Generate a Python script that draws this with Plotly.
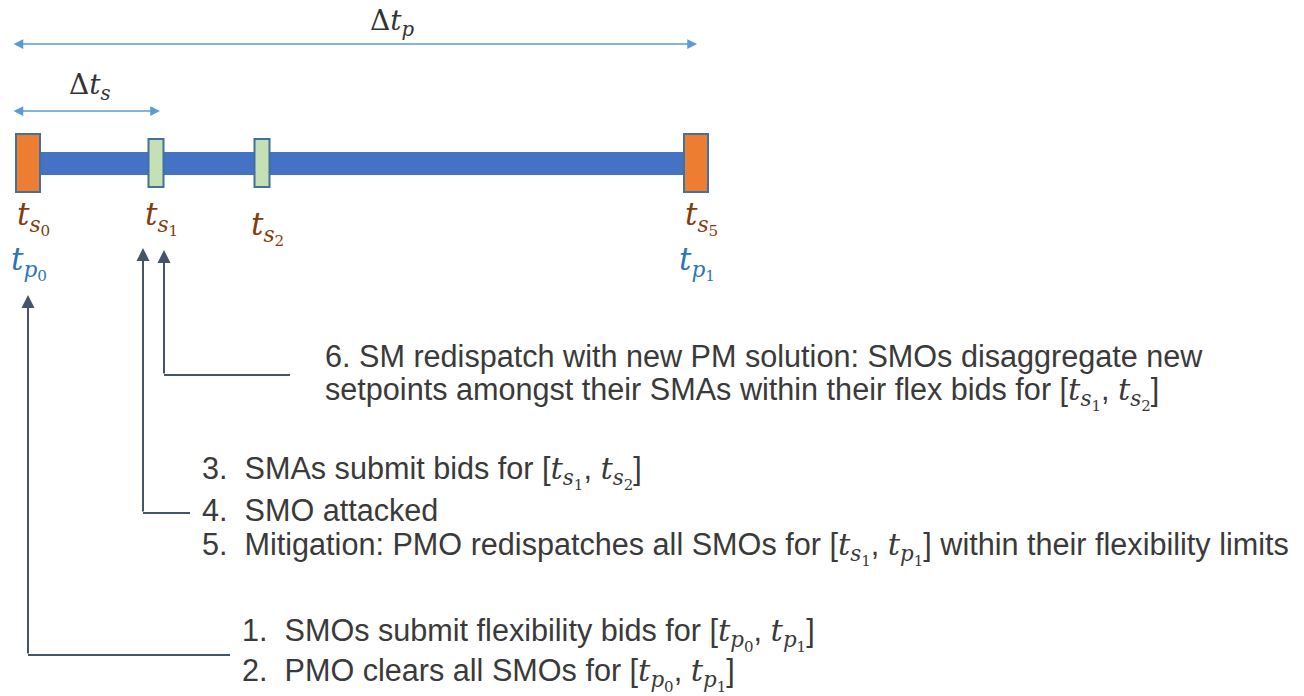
import plotly.graph_objects as go

# ---- data ----
slot_names = ["s0", "s1", "s2", "s5"]          # sub-market time slots
slot_time = [28, 156, 262, 696]                 # position on the time line
slot_kind = ["period", "sub", "sub", "period"]  # period boundary or sub-slot
period_names = {"s0": "p0", "s5": "p1"}         # period labels under the end slots

step6_lines = [
    "6. SM redispatch with new PM solution: SMOs disaggregate new",
    "setpoints amongst their SMAs within their flex bids for [{s1}, {s2}]",
]
step345_lines = [
    "3.  SMAs submit bids for [{s1}, {s2}]",
    "4.  SMO attacked",
    "5.  Mitigation: PMO redispatches all SMOs for [{s1}, {p1}] within their flexibility limits",
]
step12_lines = [
    "1.  SMOs submit flexibility bids for [{p0}, {p1}]",
    "2.  PMO clears all SMOs for [{p0}, {p1}]",
]

SERIF = "DejaVu Serif"
SANS = "Liberation Sans"
BROWN = "#843C0C"
BLUE = "#2E75B6"
DARK = "#44546A"
LIGHT = "#5B9BD5"
TEXT = "#3A3A3A"


def tsym(sub):
    a, b = sub[0], sub[1]
    return f"<i>t</i><sub><i>{a}</i><sub>{b}</sub></sub>"


def mathspan(sub):
    return f'<span style="font-family:{SERIF}">{tsym(sub)}</span>'


def fill(line):
    return line.format(**{k: mathspan(k) for k in ["s1", "s2", "p0", "p1"]})


fig = go.Figure()
shapes = []
ann = []

t0, t5 = slot_time[0], slot_time[-1]

# main bar
shapes.append(dict(type="rect", x0=t0, x1=t5, y0=152, y1=175,
                   fillcolor="#4472C4", line=dict(width=0), layer="above"))
# slot boxes
for name, t, kind in zip(slot_names, slot_time, slot_kind):
    if kind == "period":
        w, y0, y1, col = 12, 134, 192, "#ED7D31"
    else:
        w, y0, y1, col = 7.5, 139, 187, "#C5E0B4"
    shapes.append(dict(type="rect", x0=t - w, x1=t + w, y0=y0, y1=y1,
                       fillcolor=col, line=dict(color="#41719C", width=2), layer="above"))
    ann.append(dict(x=t - 13, y=218 if name != "s2" else 228, xref="x", yref="y",
                    text=tsym(name), showarrow=False, xanchor="left", yanchor="middle",
                    font=dict(family=SERIF, size=31, color=BROWN)))
    if name in period_names:
        ann.append(dict(x=t - 19, y=263, xref="x", yref="y",
                        text=tsym(period_names[name]), showarrow=False,
                        xanchor="left", yanchor="middle",
                        font=dict(family=SERIF, size=31, color=BLUE)))

# delta arrows
t1 = slot_time[1]
for (xa, xb, y, lab, lx, ly) in [(12, t5 + 1, 44, "Δ<i>t</i><sub><i>p</i></sub>", 392, 22),
                                (12, t1 + 4, 111, "Δ<i>t</i><sub><i>s</i></sub>", 90, 86)]:
    ann.append(dict(x=xb, y=y, ax=xa, ay=y, xref="x", yref="y", axref="x", ayref="y",
                    text="", showarrow=True, arrowhead=2, startarrowhead=2,
                    arrowside="end+start", arrowsize=1.3, startarrowsize=1.3,
                    arrowwidth=1.5, arrowcolor=LIGHT))
    ann.append(dict(x=lx, y=ly, xref="x", yref="y", text=lab, showarrow=False,
                    font=dict(family=SERIF, size=28, color="#333333")))

# connectors: (x of vertical, top tip, bottom, end of horizontal)
connectors = [(t0, 295, 655, 230), (143, 248, 513, 190), (164, 250, 375, 290)]
for (x, ytop, ybot, xend) in connectors:
    shapes.append(dict(type="line", x0=x, x1=xend, y0=ybot, y1=ybot,
                       line=dict(color=DARK, width=2)))
    ann.append(dict(x=x, y=ytop, ax=x, ay=ybot, xref="x", yref="y", axref="x", ayref="y",
                    text="", showarrow=True, arrowhead=2, arrowsize=1.3,
                    arrowwidth=2, arrowcolor=DARK))

# step texts
def add_lines(lines, x, ys, size):
    for line, y in zip(lines, ys):
        ann.append(dict(x=x, y=y, xref="x", yref="y", text=fill(line), showarrow=False,
                        xanchor="left", yanchor="middle",
                        font=dict(family=SANS, size=size, color=TEXT)))

add_lines(step6_lines, 323, [356, 393], 30.6)
add_lines(step345_lines, 200, [472, 510, 548], 30.6)
add_lines(step12_lines, 240, [634, 674], 30.6)

fig.update_layout(
    width=1304, height=696, margin=dict(l=0, r=0, t=0, b=0),
    paper_bgcolor="white", plot_bgcolor="white",
    xaxis=dict(range=[0, 1304], visible=False, fixedrange=True),
    yaxis=dict(range=[696, 0], visible=False, fixedrange=True),
    shapes=shapes, annotations=ann, showlegend=False,
)
fig.write_html("out.html", config={"displayModeBar": False},
               post_script="document.body.style.margin='0';document.body.style.overflow='hidden';")
